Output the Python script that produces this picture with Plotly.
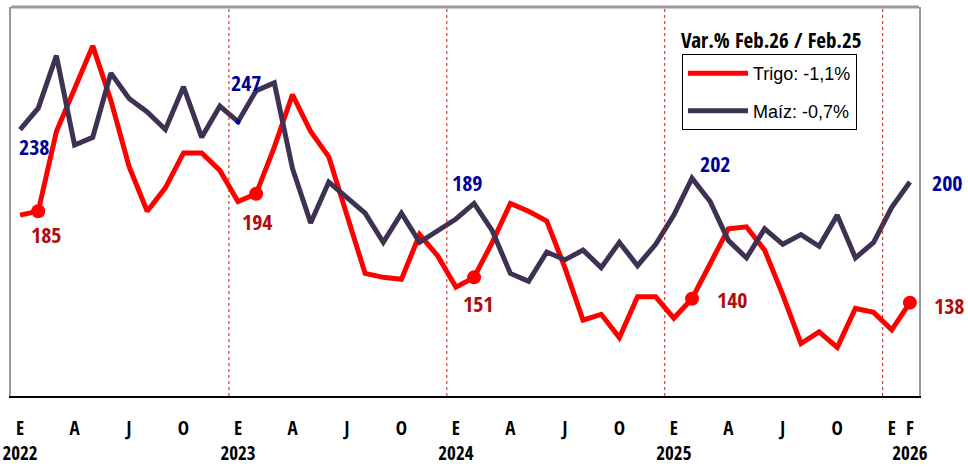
import plotly.graph_objects as go

# meses ene-2022 .. feb-2026
meses = [f"{a}-{m:02d}" for a in range(2022, 2027) for m in range(1, 13)][:50]

trigo = [183, 185, 226, 248, 270, 242, 208, 185, 197, 215, 215, 206,
         190, 194, 218, 245, 226, 213, 184, 153, 151, 150, 173, 162,
         146, 151, 169, 189, 185, 180, 156, 129, 132, 120, 141, 141,
         130, 140, 158, 176, 177, 165, 142, 117, 123, 115, 135, 133,
         124, 138]

maiz = [227, 238, 265, 219, 223, 256, 243, 236, 227, 249, 223, 239,
        231, 247, 251, 207, 179, 200, 192, 184, 169, 184, 169, 175,
        181, 189, 175, 153, 149, 164, 160, 165, 156, 169, 157, 168,
        183, 202, 190, 170, 161, 176, 168, 173, 167, 183, 161, 169,
        187, 200]

# puntos destacados (febrero de cada año)
idx_feb = [1, 13, 25, 37, 49]

tick_pos = [0, 3, 6, 9, 12, 15, 18, 21, 24, 27, 30, 33, 36, 39, 42, 45, 48, 49]
tick_txt = ["E<br>2022", "A", "J", "O", "E<br>2023", "A", "J", "O",
            "E<br>2024", "A", "J", "O", "E<br>2025", "A", "J", "O",
            "E", "F<br>2026"]

rojo = "#FF0000"
morado = "#3F3151"
rojo_osc = "#B00C0C"
azul_osc = "#000099"
fuente_b = "Open Sans Condensed, Liberation Sans, Arial"
fuente = "Liberation Sans, Arial"

fig = go.Figure()

fig.add_trace(go.Scatter(x=meses, y=trigo, mode="lines", name="Trigo: -1,1%",
                         legendgroup="t", line=dict(color=rojo, width=5)))
fig.add_trace(go.Scatter(x=meses, y=maiz, mode="lines", name="Maíz: -0,7%",
                         legendgroup="m", line=dict(color=morado, width=5)))
fig.add_trace(go.Scatter(x=[meses[i] for i in idx_feb], y=[trigo[i] for i in idx_feb],
                         mode="markers", marker=dict(color=rojo, size=14),
                         showlegend=False, hoverinfo="skip"))
fig.add_trace(go.Scatter(x=[meses[12]], y=[maiz[12]], mode="markers",
                         marker=dict(color=azul_osc, size=5),
                         showlegend=False, hoverinfo="skip"))

# etiquetas de valores
etiquetas = [
    (1, maiz[1], -4, -38, azul_osc), (1, trigo[1], 8, -23, rojo_osc),
    (13, maiz[13], -10, 9, azul_osc), (13, trigo[13], 1, -27, rojo_osc),
    (25, maiz[25], -7, 21, azul_osc), (25, trigo[25], 4, -26, rojo_osc),
    (37, maiz[37], 23, 15, azul_osc), (37, trigo[37], 40, 0, rojo_osc),
    (49, maiz[49], 38, 0, azul_osc), (49, trigo[49], 40, -2, rojo_osc),
]
for i, v, dx, dy, c in etiquetas:
    fig.add_annotation(x=meses[i], y=v, text=f"<b>{v}</b>", showarrow=False,
                       xshift=dx, yshift=dy, font=dict(family=fuente_b, size=22, color=c))

# separadores de año
for s in [11.5, 23.5, 35.5, 47.5]:
    fig.add_shape(type="line", xref="x", yref="paper", x0=s, x1=s, y0=0, y1=1,
                  line=dict(color=rojo, width=1, dash="dot"))

# borde superior gris
fig.add_shape(type="line", xref="paper", yref="paper", x0=0, x1=1, y0=1, y1=1,
              line=dict(color="#999999", width=3))

fig.add_annotation(xref="paper", yref="paper", x=0.837, y=0.915, xanchor="center",
                   yanchor="middle", showarrow=False,
                   text="<b>Var.% Feb.26 / Feb.25</b>",
                   font=dict(family=fuente_b, size=21, color="black"))

fig.update_layout(
    width=968, height=467,
    margin=dict(l=11, r=49, t=7, b=71),
    plot_bgcolor="white", paper_bgcolor="white",
    font=dict(family=fuente, color="black"),
    legend=dict(x=0.739, y=0.879, xanchor="left", yanchor="top",
                bordercolor="black", borderwidth=1, bgcolor="white",
                font=dict(family=fuente, size=18, color="black"),
                itemwidth=60, tracegroupgap=11),
)

fig.update_xaxes(type="category", range=[-0.5, 49.5], tickmode="array",
                 tickvals=[meses[i] for i in tick_pos],
                 ticktext=[f"<b>{t.replace('<br>', '</b><br><b>')}</b>" for t in tick_txt],
                 tickangle=0, showgrid=False, showline=True, linecolor="black",
                 linewidth=2, ticks="outside", ticklen=14, tickcolor="rgba(0,0,0,0)",
                 automargin=False,
                 tickfont=dict(family=fuente_b, size=19, color="black"))
fig.update_yaxes(range=[90, 290], showticklabels=False, showgrid=False,
                 zeroline=False, showline=True, linecolor="#999999", linewidth=2,
                 mirror=True, ticks="", automargin=False)

fig.write_html("out.html", config={"displayModeBar": False},
               post_script="document.body.style.margin = '0';")
